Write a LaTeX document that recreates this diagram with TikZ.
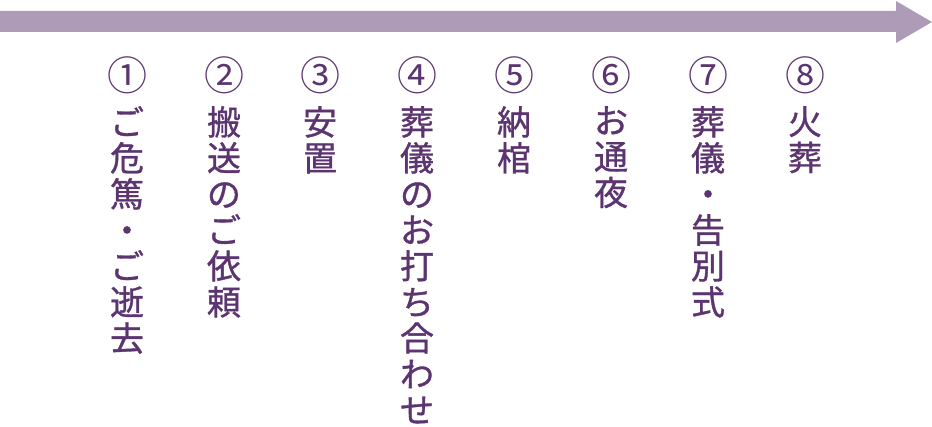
\documentclass[tikz,border=0pt]{standalone}
\usepackage{fontspec}
\newfontfamily\jpfont[AutoFakeBold=1]{Noto Sans CJK JP}
\usetikzlibrary{positioning}
\definecolor{barpurple}{HTML}{AE9BB7}
\definecolor{textpurple}{HTML}{5B3470}

\begin{document}
\begin{tikzpicture}[x=1pt,y=-1pt]
                \tikzstyle{every node}+=[inner sep=0pt, text=textpurple]
                \tikzstyle{num}=[font=\jpfont\fontsize{40}{40}\selectfont]
                \tikzstyle{steptext}=[anchor=north, align=center, font=\jpfont\bfseries\fontsize{34}{36}\selectfont]
                \useasboundingbox (0,0) rectangle (932,427);
                % time line
                \fill [barpurple] (0,11) -- (896,11) -- (896,1) -- (932,22) -- (896,43) -- (896,32) -- (0,32) -- cycle;
                % steps
                \node [num] (n1) at (127,75) {①};
                \node [steptext] (t1) at (127,106) {ご\\危\\篤\\・\\ご\\逝\\去};
                \node [num] (n2) at (224,75) {②};
                \node [steptext] (t2) at (224,106) {搬\\送\\の\\ご\\依\\頼};
                \node [num] (n3) at (320,75) {③};
                \node [steptext] (t3) at (320,106) {安\\置};
                \node [num] (n4) at (417,75) {④};
                \node [steptext] (t4) at (417,106) {葬\\儀\\の\\お\\打\\ち\\合\\わ\\せ};
                \node [num] (n5) at (514,75) {⑤};
                \node [steptext] (t5) at (514,106) {納\\棺};
                \node [num] (n6) at (611,75) {⑥};
                \node [steptext] (t6) at (611,106) {お\\通\\夜};
                \node [num] (n7) at (708,75) {⑦};
                \node [steptext] (t7) at (708,106) {葬\\儀\\・\\告\\別\\式};
                \node [num] (n8) at (805,75) {⑧};
                \node [steptext] (t8) at (805,106) {火\\葬};
\end{tikzpicture}
\end{document}
